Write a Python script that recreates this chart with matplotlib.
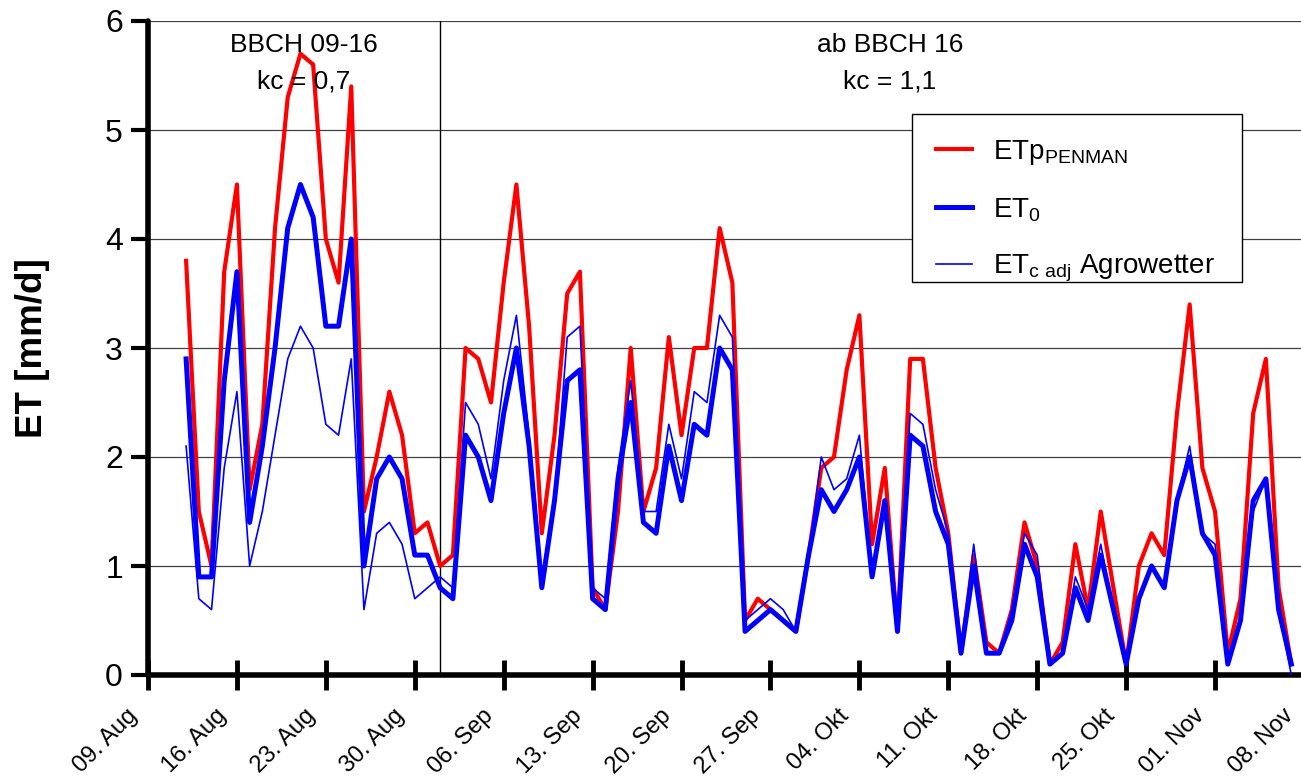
import matplotlib
matplotlib.use("Agg")
import matplotlib.pyplot as plt
import matplotlib.transforms as mtransforms
from matplotlib.patches import Rectangle
import pandas as pd

plt.rcParams['font.family'] = ['Liberation Sans', 'DejaVu Sans']
plt.rcParams['mathtext.fontset'] = 'custom'
plt.rcParams['mathtext.rm'] = 'Liberation Sans'

# daily values 12 Aug - 07 Nov
days = pd.date_range("2000-08-12", "2000-11-07", freq="D")

etp_penman = [
    3.8, 1.5, 1.0, 3.7, 4.5, 1.7, 2.3, 4.1, 5.3, 5.7, 5.6, 4.0, 3.6, 5.4, 1.5, 2.0, 2.6, 2.2, 1.3, 1.4,
    1.0, 1.1, 3.0, 2.9, 2.5, 3.6, 4.5, 3.2, 1.3, 2.2, 3.5, 3.7, 0.8, 0.6, 1.5, 3.0, 1.5, 1.9, 3.1, 2.2,
    3.0, 3.0, 4.1, 3.6, 0.5, 0.7, 0.6, 0.5, 0.4, 1.1,
    1.9, 2.0, 2.8, 3.3, 1.2, 1.9, 0.4, 2.9, 2.9, 1.9, 1.3, 0.2, 1.1, 0.3, 0.2, 0.6, 1.4, 1.0, 0.1, 0.3,
    1.2, 0.6, 1.5, 0.8, 0.1, 1.0, 1.3, 1.1, 2.4, 3.4, 1.9,
    1.5, 0.2, 0.7, 2.4, 2.9, 0.8, 0.1,
]
et0 = [
    2.9, 0.9, 0.9, 2.7, 3.7, 1.4, 2.1, 3.0, 4.1, 4.5, 4.2, 3.2, 3.2, 4.0, 1.0, 1.8, 2.0, 1.8, 1.1, 1.1,
    0.8, 0.7, 2.2, 2.0, 1.6, 2.4, 3.0, 2.1, 0.8, 1.6, 2.7, 2.8, 0.7, 0.6, 1.8, 2.5, 1.4, 1.3, 2.1, 1.6,
    2.3, 2.2, 3.0, 2.8, 0.4, 0.5, 0.6, 0.5, 0.4, 1.1,
    1.7, 1.5, 1.7, 2.0, 0.9, 1.6, 0.4, 2.2, 2.1, 1.5, 1.2, 0.2, 1.0, 0.2, 0.2, 0.5, 1.2, 0.9, 0.1, 0.2,
    0.8, 0.5, 1.1, 0.6, 0.1, 0.7, 1.0, 0.8, 1.6, 2.0, 1.3,
    1.1, 0.1, 0.5, 1.6, 1.8, 0.6, 0.1,
]
etc_agrowetter = [
    2.1, 0.7, 0.6, 1.9, 2.6, 1.0, 1.5, 2.2, 2.9, 3.2, 3.0, 2.3, 2.2, 2.9, 0.6, 1.3, 1.4, 1.2, 0.7, 0.8,
    0.9, 0.8, 2.5, 2.3, 1.8, 2.7, 3.3, 2.2, 0.9, 1.6, 3.1, 3.2, 0.8, 0.7, 1.9, 2.7, 1.5, 1.5, 2.3, 1.8,
    2.6, 2.5, 3.3, 3.1, 0.5, 0.6, 0.7, 0.6, 0.4, 1.1,
    2.0, 1.7, 1.8, 2.2, 0.9, 1.6, 0.4, 2.4, 2.3, 1.7, 1.3, 0.2, 1.2, 0.2, 0.2, 0.6, 1.3, 1.1, 0.1, 0.2,
    0.9, 0.6, 1.2, 0.6, 0.1, 0.7, 1.0, 0.8, 1.6, 2.1, 1.3,
    1.2, 0.1, 0.5, 1.5, 1.8, 0.6, 0.0,
]

tick_dates = pd.date_range("2000-08-09", "2000-11-08", freq="7D")
tick_labels = ["09. Aug", "16. Aug", "23. Aug", "30. Aug", "06. Sep", "13. Sep", "20. Sep",
               "27. Sep", "04. Okt", "11. Okt", "18. Okt", "25. Okt", "01. Nov", "08. Nov"]
phase_change = pd.Timestamp("2000-09-01")
phase_lines = [("BBCH 09-16", "kc = 0,7"), ("ab BBCH 16", "kc = 1,1")]
phase_centres = [pd.Timestamp("2000-08-21 06:00"), pd.Timestamp("2000-10-06 10:00")]

W, H = 1301, 778
fig = plt.figure(figsize=(W / 100, H / 100), dpi=100)
# axis runs a few pixels past the right edge, as in the original
ax = fig.add_axes([148 / W, 1 - 675 / H, 1156 / W, 654 / H])

ax.set_xlim(pd.Timestamp("2000-08-09"), pd.Timestamp("2000-11-08"))
ax.set_ylim(0, 6)
ax.set_yticks(range(7))
for y in range(1, 7):
    ax.axhline(y, color="#404040", lw=0.9, zorder=1)
ax.axvline(phase_change, color="black", lw=1.0, zorder=1)

ax.plot(days, etp_penman, color="#ff0000", lw=3.0, zorder=3, label="ETp$_\\mathregular{PENMAN}$")
ax.plot(days, et0, color="#0000ff", lw=3.6, zorder=4, label="ET$_\\mathregular{0}$")
ax.plot(days, etc_agrowetter, color="#0000ff", lw=1.2, zorder=5,
        label="ET$_\\mathregular{c\\ adj}$ Agrowetter")

ax.set_xticks(tick_dates)
ax.set_xticklabels(tick_labels, rotation=45, ha="right", va="center", rotation_mode="anchor",
                   fontsize=17)
ax.tick_params(axis="x", direction="inout", length=22, width=3.5, pad=16)
ax.tick_params(axis="y", direction="out", length=12, width=3, labelsize=23, pad=6)
shift = mtransforms.ScaledTranslation(-0.14, 0, fig.dpi_scale_trans)
for lab in ax.get_xticklabels():
    lab.set_transform(lab.get_transform() + shift)

for s in ["top", "right"]:
    ax.spines[s].set_visible(False)
for s in ["left", "bottom"]:
    ax.spines[s].set_linewidth(4)
    ax.spines[s].set_capstyle("round")

ax.set_ylabel("ET [mm/d]", fontsize=26.5, fontweight="bold", labelpad=40)

for xc, (l1, l2) in zip(phase_centres, phase_lines):
    ax.text(xc, 5.718, l1, ha="center", va="baseline", fontsize=19, zorder=6)
    ax.text(xc, 5.382, l2, ha="center", va="baseline", fontsize=19, zorder=6)

# legend box drawn separately so its padding matches the original
ax.add_patch(Rectangle((912 / W, 1 - 282 / H), 330 / W, 168 / H, transform=fig.transFigure,
                       fc="white", ec="black", lw=1.0, zorder=8, clip_on=False))
leg = ax.legend(loc="upper left", bbox_to_anchor=((912 - 148) / 1156, (675 - 114) / 654),
                borderaxespad=0, fontsize=20, frameon=False, handlelength=1.3,
                handletextpad=0.75, labelspacing=1.05, borderpad=0.85)
leg.set_zorder(10)

fig.savefig("out.png", dpi=100)
